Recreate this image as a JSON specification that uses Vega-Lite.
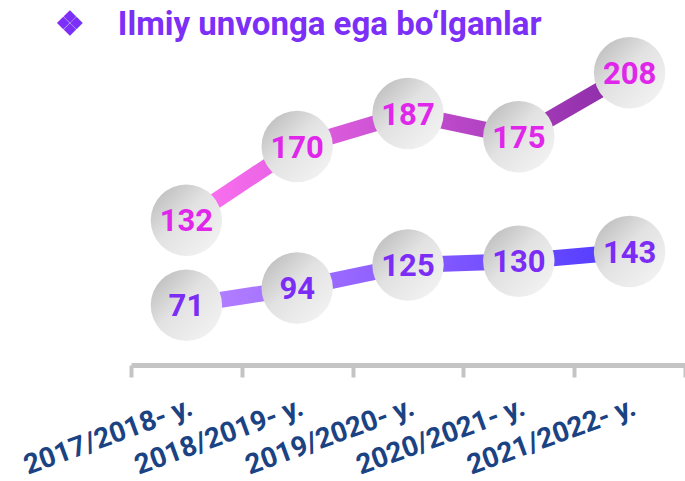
{
  "$schema": "https://vega.github.io/schema/vega-lite/v6.json",
  "autosize": {"type": "none"},
  "width": 554,
  "height": 315,
  "padding": {"left": 131, "top": 50, "right": 0, "bottom": 116},
  "background": "white",
  "title": {
    "text": "❖\u00a0\u00a0\u00a0\u00a0Ilmiy unvonga ega bo‘lganlar",
    "anchor": "start",
    "frame": "group",
    "font": "Roboto",
    "fontSize": 33,
    "fontWeight": "bold",
    "color": "#7B2FF7",
    "offset": 0,
    "dy": 5,
    "dx": -76
  },
  "config": {
    "view": {"stroke": null},
    "axisX": {
      "title": null,
      "domainColor": "#C4C4C4",
      "domainWidth": 5,
      "tickColor": "#C4C4C4",
      "tickWidth": 4,
      "tickSize": 12,
      "tickBand": "extent",
      "labelAngle": -20,
      "labelAlign": "right",
      "labelBaseline": "top",
      "labelFont": "Roboto",
      "labelFontWeight": "bold",
      "labelFontSize": 28,
      "labelColor": "#1B4383",
      "labelPadding": 16,
      "labelOverlap": false,
      "labelBound": false,
      "labelLimit": 0
    }
  },
  "data": {
    "values": [
      {"year": "2017/2018- y.", "series": "A", "value": 71},
      {"year": "2018/2019- y.", "series": "A", "value": 94},
      {"year": "2019/2020- y.", "series": "A", "value": 125},
      {"year": "2020/2021- y.", "series": "A", "value": 130},
      {"year": "2021/2022- y.", "series": "A", "value": 143},
      {"year": "2017/2018- y.", "series": "B", "value": 132},
      {"year": "2018/2019- y.", "series": "B", "value": 170},
      {"year": "2019/2020- y.", "series": "B", "value": 187},
      {"year": "2020/2021- y.", "series": "B", "value": 175},
      {"year": "2021/2022- y.", "series": "B", "value": 208}
    ]
  },
  "layer": [
    {
      "transform": [{"filter": "datum.series === 'A'"}],
      "encoding": {
        "x": {"field": "year", "type": "nominal", "sort": null, "scale": {"type": "band", "paddingInner": 0, "paddingOuter": 0}},
        "y": {"field": "value", "type": "quantitative", "scale": {"domain": [-9.4, 413.9], "zero": false, "nice": false}, "axis": null}
      },
      "layer": [
        {"mark": {"type": "line", "strokeWidth": 16, "strokeCap": "butt", "stroke": {"gradient": "linear", "x1": 0, "y1": 0, "x2": 1, "y2": 0, "stops": [{"offset": 0, "color": "#B883FF"}, {"offset": 0.5, "color": "#8A5CFF"}, {"offset": 1, "color": "#4F3BFF"}]}}},
        {"mark": {"type": "circle", "size": 5100, "opacity": 1, "fill": {"gradient": "linear", "x1": 0, "y1": 0, "x2": 1, "y2": 1, "stops": [{"offset": 0, "color": "#B5B5B5"}, {"offset": 0.45, "color": "#E2E2E2"}, {"offset": 1, "color": "#F6F6F6"}]}}},
        {"mark": {"type": "text", "font": "Roboto", "fontSize": 31, "fontWeight": "bold", "color": "#7B2CF5", "align": "center", "baseline": "middle", "dy": 2}, "encoding": {"text": {"field": "value"}}}
      ]
    },
    {
      "transform": [{"filter": "datum.series === 'B'"}],
      "encoding": {
        "x": {"field": "year", "type": "nominal", "sort": null, "scale": {"type": "band", "paddingInner": 0, "paddingOuter": 0}},
        "y": {"field": "value", "type": "quantitative", "scale": {"domain": [57.5, 219.7], "zero": false, "nice": false}, "axis": null}
      },
      "layer": [
        {"mark": {"type": "line", "strokeWidth": 16, "strokeCap": "butt", "stroke": {"gradient": "linear", "x1": 0, "y1": 0, "x2": 1, "y2": 0, "stops": [{"offset": 0, "color": "#FF72F2"}, {"offset": 0.5, "color": "#C64FD0"}, {"offset": 1, "color": "#8A2BA6"}]}}},
        {"mark": {"type": "circle", "size": 5100, "opacity": 1, "fill": {"gradient": "linear", "x1": 0, "y1": 0, "x2": 1, "y2": 1, "stops": [{"offset": 0, "color": "#B5B5B5"}, {"offset": 0.45, "color": "#E2E2E2"}, {"offset": 1, "color": "#F6F6F6"}]}}},
        {"mark": {"type": "text", "font": "Roboto", "fontSize": 31, "fontWeight": "bold", "color": "#E026EA", "align": "center", "baseline": "middle", "dy": 2}, "encoding": {"text": {"field": "value"}}}
      ]
    }
  ],
  "resolve": {"scale": {"y": "independent"}}
}
